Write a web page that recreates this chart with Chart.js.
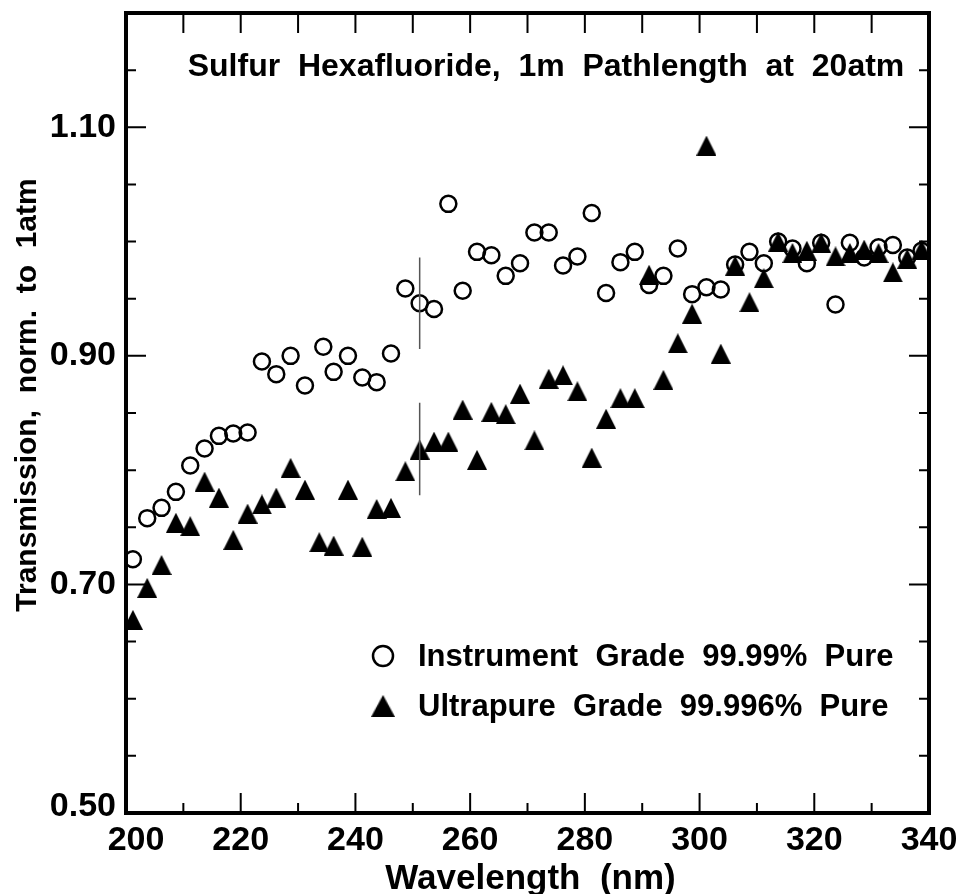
<!DOCTYPE html>
<html>
<head>
<meta charset="utf-8">
<script src="https://cdn.jsdelivr.net/npm/chart.js@4.4.1/dist/chart.umd.min.js"></script>
<style>
body{margin:0;background:#fff}
#wrap{width:961px;height:894px}
</style>
</head>
<body>
<div id="wrap"><canvas id="graph"></canvas></div>
<script>
// values
const instrumentNm=[201.2,203.7,206.2,208.7,211.2,213.7,216.2,218.7,221.2,223.7,226.2,228.7,231.2,234.4,236.2,238.7,241.2,243.7,246.2,248.7,251.2,253.7,256.2,258.7,261.2,263.7,266.2,268.7,271.2,273.7,276.2,278.7,281.2,283.7,286.2,288.7,291.2,293.7,296.2,298.7,301.2,303.7,306.2,308.7,311.2,313.7,316.2,318.7,321.2,323.7,326.2,328.7,331.2,333.7,336.2,338.7]
const instrumentT=[0.722,0.758,0.767,0.781,0.804,0.819,0.830,0.832,0.833,0.895,0.884,0.900,0.874,0.908,0.886,0.900,0.881,0.877,0.902,0.959,0.946,0.941,1.033,0.957,0.991,0.988,0.970,0.981,1.008,1.008,0.979,0.987,1.025,0.955,0.982,0.991,0.962,0.970,0.994,0.954,0.960,0.958,0.980,0.991,0.981,1.000,0.994,0.981,0.999,0.945,0.999,0.986,0.995,0.997,0.986,0.992]
const ultrapureNm=[201.2,203.7,206.2,208.7,211.2,213.7,216.2,218.7,221.2,223.7,226.2,228.7,231.2,233.7,236.2,238.7,241.2,243.7,246.2,248.7,251.2,253.7,256.2,258.7,261.2,263.7,266.2,268.7,271.2,273.7,276.2,278.7,281.2,283.7,286.2,288.7,291.2,293.7,296.2,298.7,301.2,303.7,306.2,308.7,311.2,313.7,316.2,318.7,321.2,323.7,326.2,328.7,331.2,333.7,336.2,338.7]
const ultrapureT=[0.669,0.697,0.717,0.754,0.751,0.790,0.776,0.739,0.762,0.770,0.776,0.802,0.783,0.737,0.734,0.783,0.733,0.766,0.767,0.799,0.818,0.825,0.825,0.853,0.809,0.851,0.849,0.867,0.826,0.880,0.883,0.869,0.811,0.845,0.863,0.863,0.971,0.879,0.911,0.937,1.084,0.902,0.979,0.947,0.968,1.000,0.990,0.992,0.999,0.987,0.990,0.993,0.990,0.973,0.985,0.993]
// the two error bars at 251 nm
const errNm=[251.2,251.2]
const errLow=[0.906,0.778]
const errHigh=[0.986,0.859]

const xTicks=[200,220,240,260,280,300,320,340]
const xMinor=[210,230,250,270,290,310,330]
const yTickLabels=["0.50","0.70","0.90","1.10"]
const yMinor=[0.55,0.60,0.65,0.75,0.80,0.85,0.95,1.00,1.05,1.15]

const title="Sulfur  Hexafluoride,  1m  Pathlength  at  20atm"
const xTitle="Wavelength  (nm)"
const yTitle="Transmission,  norm.  to  1atm"
const legendLabels=["Instrument  Grade  99.99%  Pure","Ultrapure  Grade  99.996%  Pure"]

const FONT='"Liberation Sans", Arial, sans-serif'

// filled triangle marker, a bit taller than equilateral
const tri=document.createElement("canvas")
tri.width=20;tri.height=20
const tc=tri.getContext("2d")
tc.fillStyle="#000"
tc.beginPath();tc.moveTo(10,0);tc.lineTo(20,20);tc.lineTo(0,20);tc.closePath();tc.fill()

function pts(xs,ys){
    return xs.map((x,i)=>({x:x,y:ys[i]}))
}
const errPts=[]
for(let i=0;i<errNm.length;i++){
    errPts.push({x:errNm[i],y:errLow[i]},{x:errNm[i],y:errHigh[i]},{x:errNm[i],y:null})
}

const axesPlugin={
    id:"axesPlugin",
    afterDraw(chart){
        const ctx=chart.ctx
        const a=chart.chartArea
        const xs=chart.scales.x, ys=chart.scales.y
        ctx.save()
        ctx.strokeStyle="#000"
        ctx.lineWidth=2
        ctx.beginPath()
        for(const v of xTicks){
            const p=xs.getPixelForValue(v)
            ctx.moveTo(p,a.bottom);ctx.lineTo(p,a.bottom-20)
            ctx.moveTo(p,a.top);ctx.lineTo(p,a.top+20)
        }
        for(const v of xMinor){
            const p=xs.getPixelForValue(v)
            ctx.moveTo(p,a.bottom);ctx.lineTo(p,a.bottom-10)
            ctx.moveTo(p,a.top);ctx.lineTo(p,a.top+20)
        }
        for(const s of yTickLabels){
            const p=ys.getPixelForValue(parseFloat(s))
            ctx.moveTo(a.left,p);ctx.lineTo(a.left+20,p)
            ctx.moveTo(a.right,p);ctx.lineTo(a.right-20,p)
        }
        for(const v of yMinor){
            const p=ys.getPixelForValue(v)
            ctx.moveTo(a.left,p);ctx.lineTo(a.left+10,p)
            ctx.moveTo(a.right,p);ctx.lineTo(a.right-10,p)
        }
        ctx.stroke()
        ctx.lineWidth=4
        ctx.strokeRect(a.left,a.top,a.right-a.left,a.bottom-a.top)

        ctx.fillStyle="#000"
        ctx.font="bold 34px "+FONT
        ctx.textAlign="center";ctx.textBaseline="middle"
        for(const v of xTicks){
            // first label sits a little right so it clears 0.50
            const p=Math.max(xs.getPixelForValue(v),a.left+10)
            ctx.fillText(String(v),p,a.bottom+28)
        }
        ctx.textAlign="right"
        for(const s of yTickLabels){
            const p=Math.min(ys.getPixelForValue(parseFloat(s)),a.bottom-6)
            ctx.fillText(s,a.left-10,p)
        }
        ctx.textAlign="center"
        ctx.font="bold 35px "+FONT
        ctx.fillText(xTitle,(a.left+a.right)/2+3,a.bottom+66)
        ctx.font="bold 30px "+FONT
        ctx.save()
        ctx.translate(28,395)
        ctx.rotate(-Math.PI/2)
        ctx.fillText(yTitle,0,0)
        ctx.restore()

        ctx.font="bold 32px "+FONT
        ctx.fillText(title,546,67)

        // legend
        ctx.font="bold 31px "+FONT
        ctx.textAlign="left"
        ctx.lineWidth=2.5
        ctx.beginPath();ctx.arc(383,656,10,0,Math.PI*2);ctx.stroke()
        ctx.fillText(legendLabels[0],418,657)
        ctx.drawImage(tri,371,695,24,22)
        ctx.fillText(legendLabels[1],418,707)
        ctx.restore()
    }
}

new Chart(document.querySelector("#graph"),{
    type:"scatter",
    data:{
        datasets:[
            {
                label:"error bars",
                data:errPts,
                showLine:true,
                spanGaps:false,
                borderColor:"#555",
                borderWidth:1.5,
                pointRadius:0
            },
            {
                label:legendLabels[0],
                data:pts(instrumentNm,instrumentT),
                pointStyle:"circle",
                pointRadius:8,
                pointBorderWidth:2.5,
                borderColor:"#000",
                backgroundColor:"rgba(0,0,0,0)"
            },
            {
                label:legendLabels[1],
                data:pts(ultrapureNm,ultrapureT),
                pointStyle:tri
            }
        ]
    },
    options:{
        responsive:true,
        maintainAspectRatio:false,
        animation:false,
        layout:{padding:{left:126,right:32,top:13,bottom:81}},
        plugins:{legend:{display:false},tooltip:{enabled:false}},
        scales:{
            x:{type:"linear",min:200,max:340,display:false},
            y:{type:"linear",min:0.5,max:1.2,display:false}
        }
    },
    plugins:[axesPlugin]
})
</script>
</body>
</html>
